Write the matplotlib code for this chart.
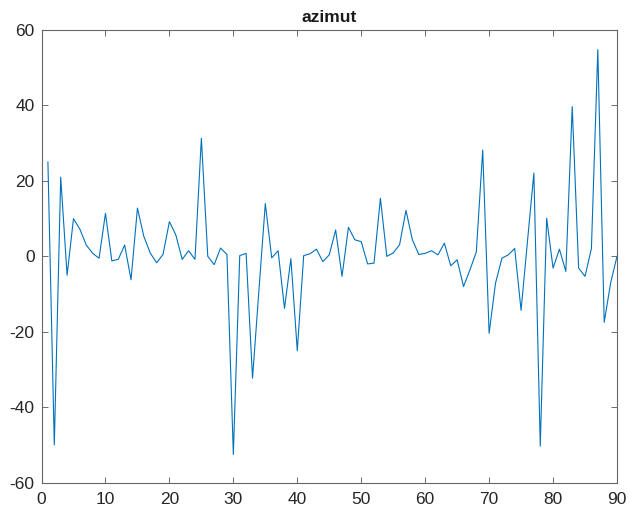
import matplotlib
matplotlib.use("Agg")
import matplotlib.pyplot as plt

plt.rcParams['font.family'] = ['Liberation Sans', 'DejaVu Sans']
plt.rcParams['axes.unicode_minus'] = False

# sample index and azimut values
sample = list(range(1, 91))
azimut = [25, -50, 21, -5, 10, 7.2, 3, 0.8, -0.5, 11.4,
          -1.2, -0.8, 3, -6.2, 12.8, 5.3, 0.9, -1.7, 0.5, 9.2,
          5.7, -0.8, 1.5, -0.8, 31.3, 0, -2.2, 2.2, 0.5, -52.5,
          0.2, 0.8, -32.3, -9, 14, -0.4, 1.5, -13.8, -0.6, -25,
          0.2, 0.7, 1.9, -1.4, 0.4, 7, -5.3, 7.7, 4.4, 3.9,
          -2, -1.8, 15.4, 0, 0.9, 3.1, 12.2, 4.4, 0.5, 0.8,
          1.5, 0.4, 3.5, -2.5, -0.9, -8, -3.6, 1.2, 28.2, -20.4,
          -7.1, -0.5, 0.4, 2.1, -14.3, 4, 22.1, -50.3, 10.1, -3.1,
          1.9, -4, 39.7, -3.1, -5.3, 2.1, 54.8, -17.5, -7.1, 0]

xticks = [0, 10, 20, 30, 40, 50, 60, 70, 80, 90]
yticks = [-60, -40, -20, 0, 20, 40, 60]

fig = plt.figure(figsize=(6.31, 5.15), dpi=100)
ax = fig.add_axes([0.0658, 0.0627, 0.912, 0.879])

ax.plot(sample, azimut, color='#0072BD', linewidth=0.8)

ax.set_xlim(0, 90)
ax.set_ylim(-60, 60)
ax.set_xticks(xticks)
ax.set_yticks(yticks)
ax.tick_params(direction='in', length=4, width=0.6, color='#555555',
               labelsize=12.5, labelcolor='#262626', top=True, right=True)
ax.tick_params(axis='x', pad=7)
ax.tick_params(axis='y', pad=5)
for s in ax.spines.values():
    s.set_color('#666666')
    s.set_linewidth(0.8)

ax.set_title('azimut', fontsize=12.5, fontweight='bold', pad=6, color='#1a1a1a')

fig.savefig('out.png', dpi=100)
